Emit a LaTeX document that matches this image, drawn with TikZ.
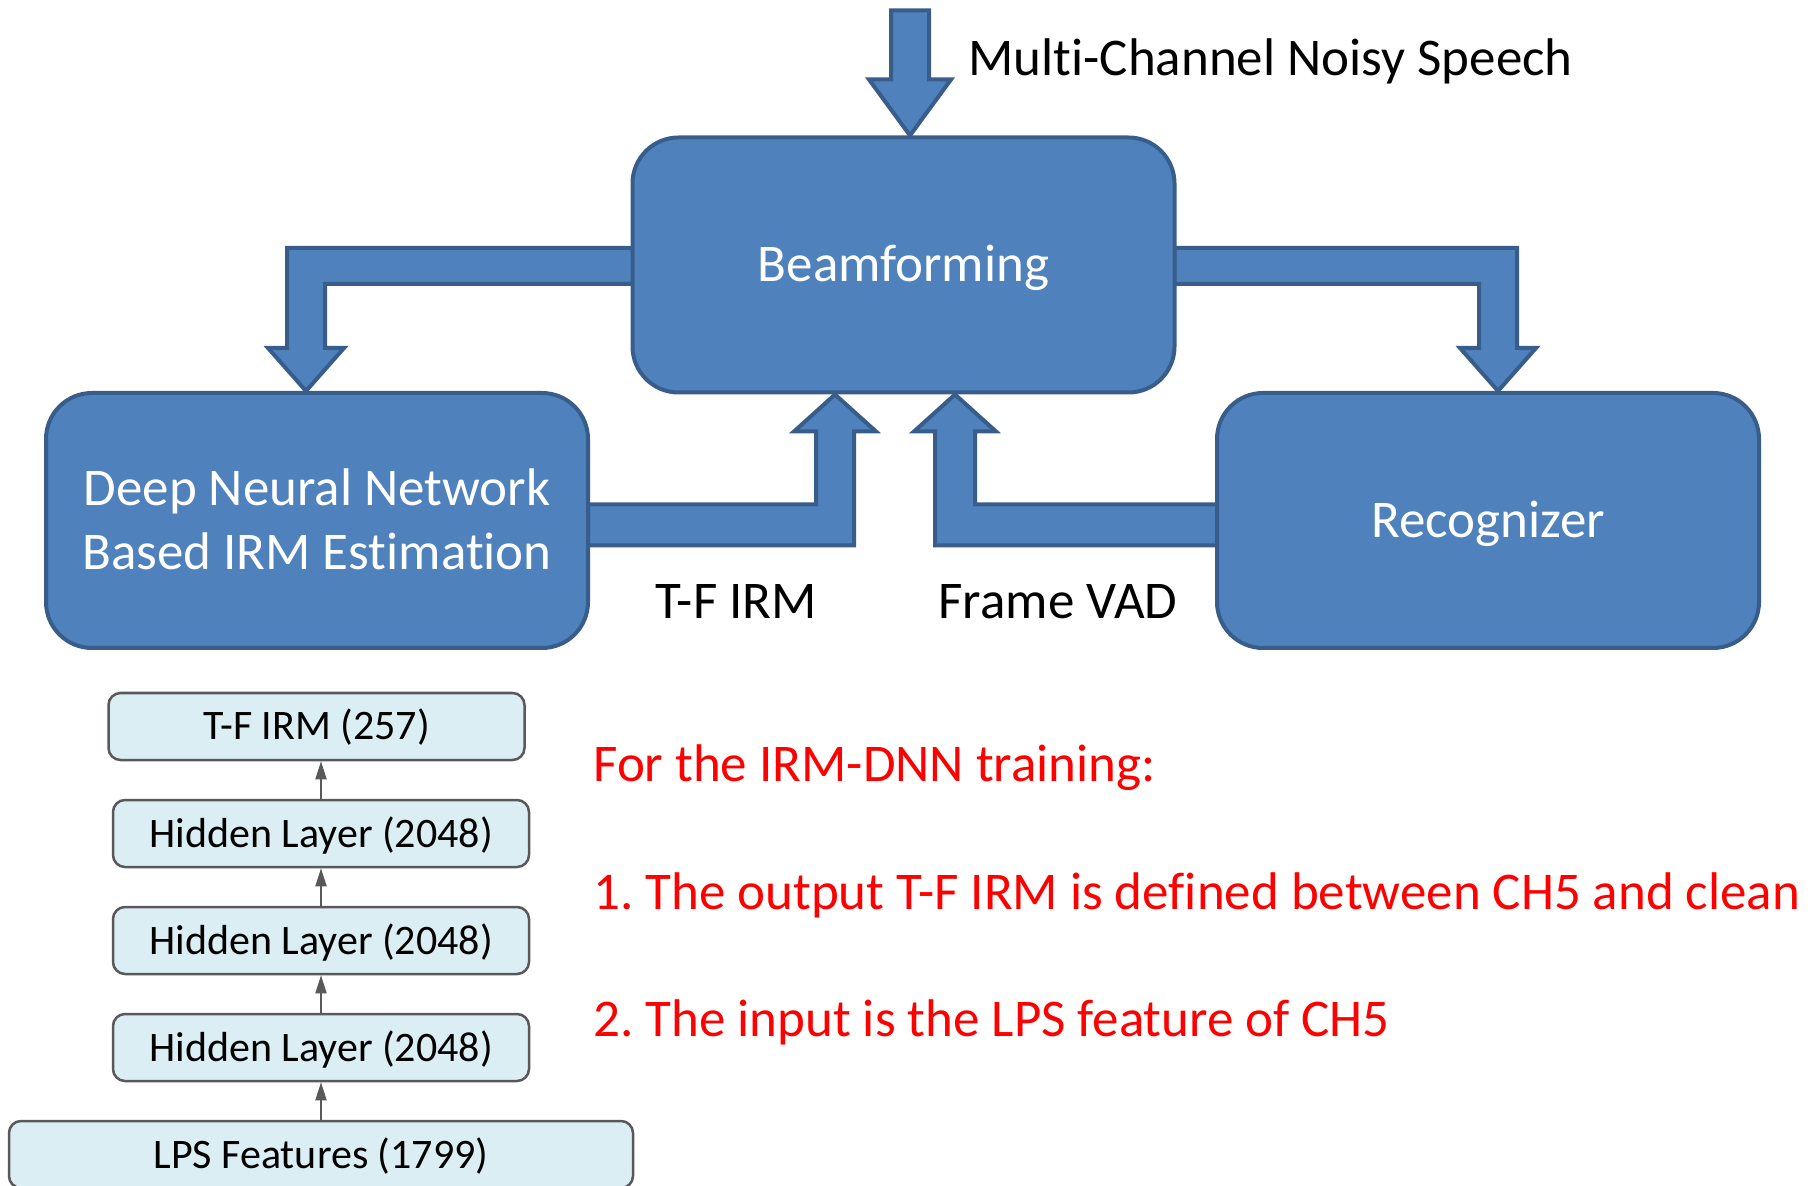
\documentclass[tikz,border=0pt]{standalone}
\usepackage{fontspec}
\setmainfont{Carlito}[Ligatures=CommonOff]
\usetikzlibrary{positioning,calc,arrows.meta,backgrounds}
\frenchspacing
\definecolor{bblue}{HTML}{4F81BD}
\definecolor{bdark}{HTML}{385D8A}
\definecolor{lfill}{HTML}{DBEEF4}
\definecolor{lline}{HTML}{595959}
\definecolor{note}{HTML}{FF0000}
\tikzset{
  bigbox/.style  = {draw=bdark, fill=bblue, line width=2pt, rounded corners=23pt,
                    minimum width=271pt, minimum height=127.5pt, align=center,
                    text=white, text height=17pt, text depth=0pt,
                    font=\fontsize{26.5}{32}\selectfont},
  barrow/.style  = {draw=bdark, fill=bblue, line width=2pt, line join=miter},
  lbox/.style    = {draw=lline, fill=lfill, line width=1.25pt, rounded corners=6pt,
                    minimum width=208pt, minimum height=33.5pt,
                    text height=13.5pt, text depth=0pt,
                    font=\fontsize{21}{25}\selectfont},
  larr/.style    = {draw=lline, line width=1pt, -{Triangle[length=9pt,width=5.5pt]}},
  lbl/.style     = {inner sep=0pt, font=\fontsize{26.5}{32}\selectfont},
  rlbl/.style    = {lbl, text=note, anchor=base west},
}
\begin{document}
\begin{tikzpicture}[x=0.5pt,y=0.5pt]
  \useasboundingbox (0,0) rectangle (1814,-1186);
  % processing blocks
  \node[bigbox] (beam) at (903.5,-265) {Beamforming};
  \node[bigbox, text height=49pt] (dnn) at (317,-520.5)
    {Deep Neural Network\\Based IRM Estimation};
  \node[bigbox] (rec) at (1488,-520.5) {Recognizer};
  % arrow tips on the block borders
  \coordinate (tin) at ($(beam.north)+(6.5,0)$);
  \coordinate (tl) at ($(dnn.north)+(-11,0)$);
  \coordinate (tr) at ($(rec.north)+(10,0)$);
  \coordinate (tirm) at ($(beam.south)+(-68.5,0)$);
  \coordinate (tvad) at ($(beam.south)+(51.5,0)$);
  \begin{pgfonlayer}{background}
    \draw[barrow] (tin) -- ++(41,56) -- ++(-22,0) -- ++(0,69) -- ++(-38,0)
      -- ++(0,-69) -- ++(-22,0) -- cycle;
    \draw[barrow] (tl) -- ++(38,43) -- ++(-19,0) -- ++(0,64) -- ++(308,0)
      -- ++(0,36) -- ++(-346,0) -- ++(0,-100) -- ++(-19,0) -- cycle;
    \draw[barrow] (tr) -- ++(38,43) -- ++(-19,0) -- ++(0,100) -- ++(-343,0)
      -- ++(0,-36) -- ++(305,0) -- ++(0,-64) -- ++(-19,0) -- cycle;
    \draw[barrow] (tirm) -- ++(41,-37) -- ++(-22,0) -- ++(0,-114) -- ++(-266,0)
      -- ++(0,41) -- ++(228,0) -- ++(0,73) -- ++(-22,0) -- cycle;
    \draw[barrow] (tvad) -- ++(41,-37) -- ++(-21,0) -- ++(0,-73) -- ++(242,0)
      -- ++(0,-41) -- ++(-282,0) -- ++(0,114) -- ++(-21,0) -- cycle;
  \end{pgfonlayer}
  \node[lbl, anchor=base west] (input) at (968,-76) {Multi-Channel Noisy Speech};
  \node[lbl, anchor=base] (irml) at (736,-619) {T-F IRM};
  \node[lbl, anchor=base] (vadl) at (1058,-619) {Frame VAD};
  % the IRM-DNN layers
  \node[lbox] (out) at (316.5,-726.5) {T-F IRM (257)};
  \node[lbox] (hid3) at (321,-833.5) {Hidden Layer (2048)};
  \node[lbox] (hid2) at (321,-940.5) {Hidden Layer (2048)};
  \node[lbox] (hid1) at (321,-1047.5) {Hidden Layer (2048)};
  \node[lbox, minimum width=312pt] (lps) at (321,-1154.5) {LPS Features (1799)};
  \draw[larr] (lps.north) -- (hid1.south);
  \draw[larr] (hid1.north) -- (hid2.south);
  \draw[larr] (hid2.north) -- (hid3.south);
  \draw[larr] (hid3.north) -- (hid3.north |- out.south);
  % training notes
  \node[rlbl] (note0) at (593,-781) {For the IRM-DNN training:};
  \node[rlbl] (note1) at (593,-909) {1. The output T-F IRM is defined between CH5 and clean};
  \node[rlbl] (note2) at (593,-1036) {2. The input is the LPS feature of CH5};
\end{tikzpicture}
\end{document}
